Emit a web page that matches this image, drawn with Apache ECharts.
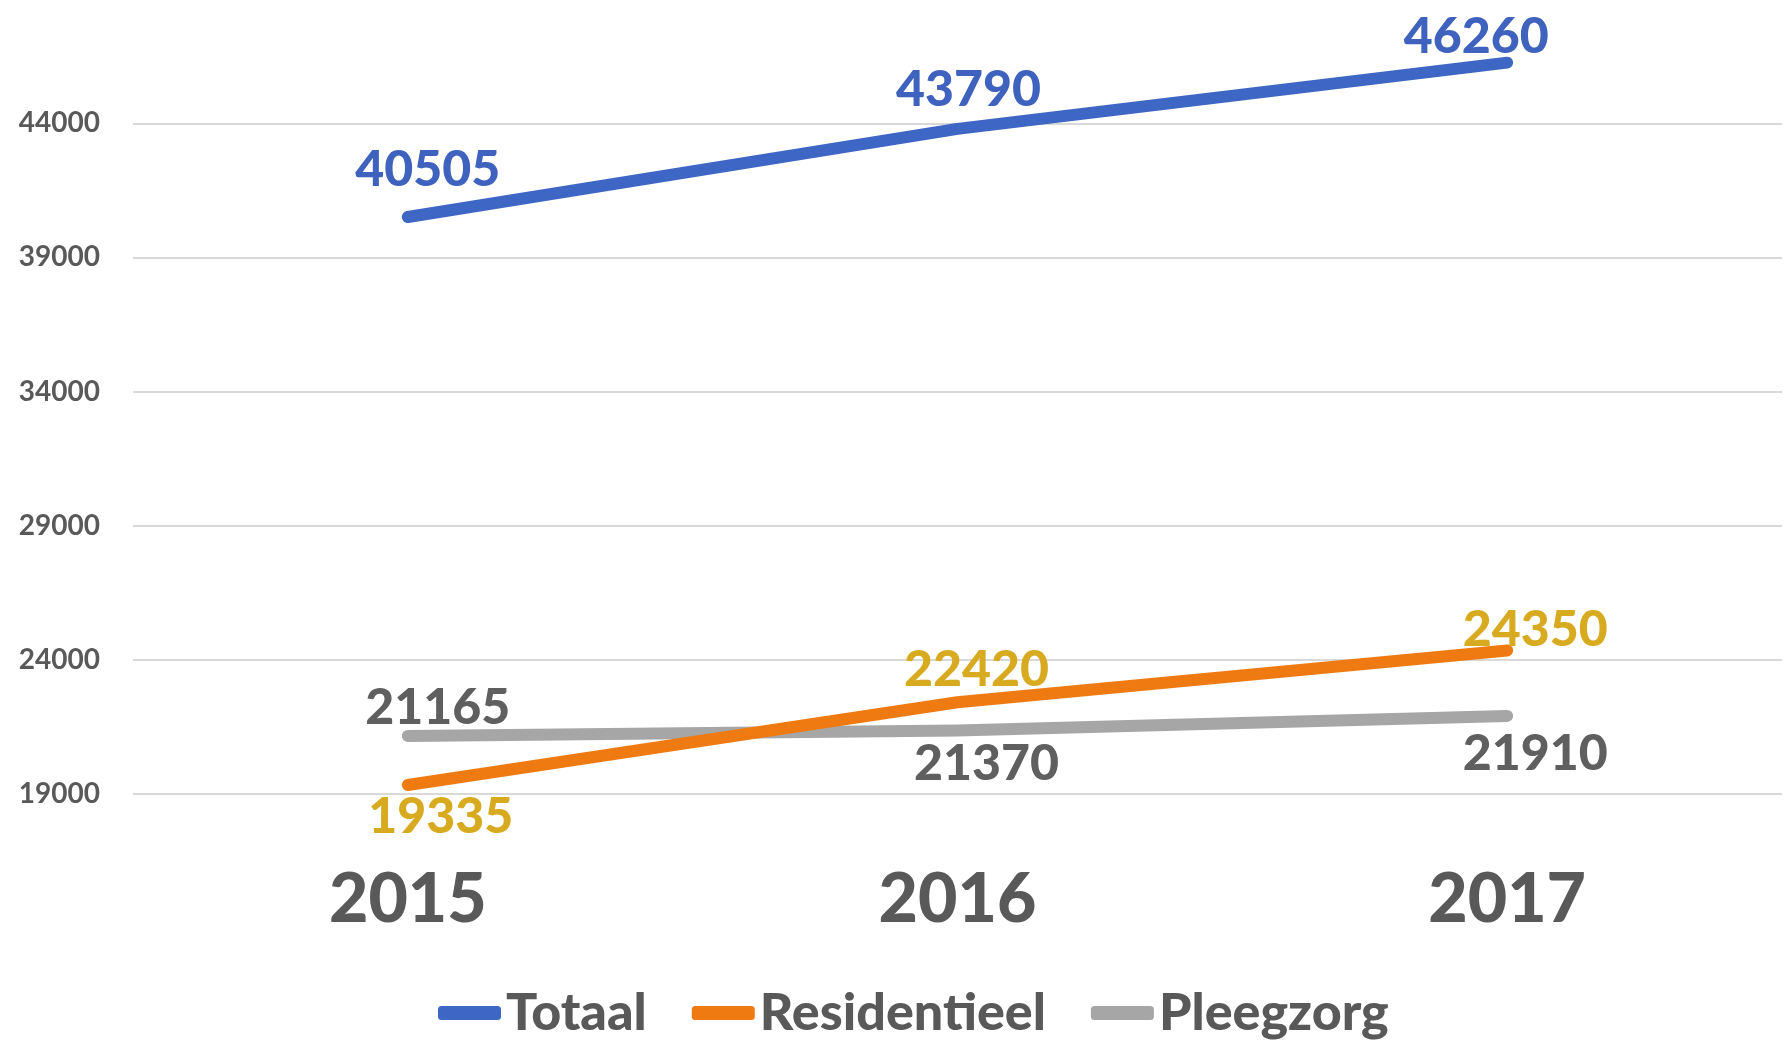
<!DOCTYPE html>
<html>
<head>
<meta charset="utf-8">
<script src="https://cdn.jsdelivr.net/npm/echarts@6/dist/echarts.min.js"></script>
<style>
html,body{margin:0;padding:0;background:#fff;}
#chart{width:1787px;height:1040px;}
</style>
</head>
<body>
<div id="chart"></div>
<script>
// ---- data ----
const years = ['2015', '2016', '2017'];
const totaal = [40505, 43790, 46260];
const residentieel = [19335, 22420, 24350];
const pleegzorg = [21165, 21370, 21910];
const seriesNames = ['Totaal', 'Residentieel', 'Pleegzorg'];
const yTickLabels = [19000, 24000, 29000, 34000, 39000, 44000];

// ---- styling (label offsets in px relative to each point) ----
const totaalOffsets = [[20, -47], [11, -39], [-31, -26]];
const resOffsets = [[33, 32], [19, -32], [28, -21]];
const pleegOffsets = [[30, -28], [29, 33], [28, 38]];

function withLabels(values, offsets, color) {
  return values.map((v, i) => ({
    value: v,
    label: { offset: offsets[i], color: color }
  }));
}

const FONT = 'Lato, "Open Sans", sans-serif';
const grey = '#d9d9d9';

const chart = echarts.init(document.getElementById('chart'), null, { renderer: 'canvas' });

function lineSeries(name, values, offsets, lineColor, labelColor) {
  return {
    name: name,
    type: 'line',
    data: withLabels(values, offsets, labelColor),
    symbol: 'circle',
    symbolSize: 1,
    showSymbol: true,
    itemStyle: { color: lineColor },
    lineStyle: { color: lineColor, width: 12, cap: 'round', join: 'round' },
    label: {
      show: true,
      position: 'inside',
      fontFamily: FONT,
      fontWeight: 900,
      fontSize: 50,
      color: labelColor
    },
    emphasis: { disabled: true },
    animation: false
  };
}

chart.setOption({
  animation: false,
  backgroundColor: '#ffffff',
  grid: { left: 133, right: 5, top: 42.8, bottom: 111.9, containLabel: false },
  legend: {
    data: seriesNames,
    left: 433,
    top: 982,
    itemWidth: 63,
    itemHeight: 14,
    itemGap: 45,
    icon: 'roundRect',
    textStyle: { fontFamily: FONT, fontWeight: 900, fontSize: 52, color: '#595959' }
  },
  xAxis: {
    type: 'category',
    data: years,
    boundaryGap: true,
    axisLine: { show: false },
    axisTick: { show: false },
    axisLabel: {
      margin: -62,
      fontFamily: FONT,
      fontWeight: 900,
      fontSize: 68,
      color: '#595959'
    }
  },
  yAxis: {
    type: 'value',
    min: 14000,
    max: 47000,
    interval: 5000,
    axisLine: { show: false },
    axisTick: { show: false },
    axisLabel: {
      margin: 33,
      fontFamily: FONT,
      fontWeight: 'bold',
      fontSize: 28,
      color: '#595959',
      formatter: v => (yTickLabels.indexOf(v) >= 0 ? String(v) : '')
    },
    splitLine: {
      show: true,
      lineStyle: {
        width: 2,
        color: ['rgba(0,0,0,0)', grey, grey, grey, grey, grey, grey, 'rgba(0,0,0,0)']
      }
    }
  },
  series: [
    lineSeries('Pleegzorg', pleegzorg, pleegOffsets, '#A6A6A6', '#5f5f5f'),
    lineSeries('Residentieel', residentieel, resOffsets, '#F07A12', '#D8AA1F'),
    lineSeries('Totaal', totaal, totaalOffsets, '#3E66C4', '#3E62BE')
  ]
});
</script>
</body>
</html>
